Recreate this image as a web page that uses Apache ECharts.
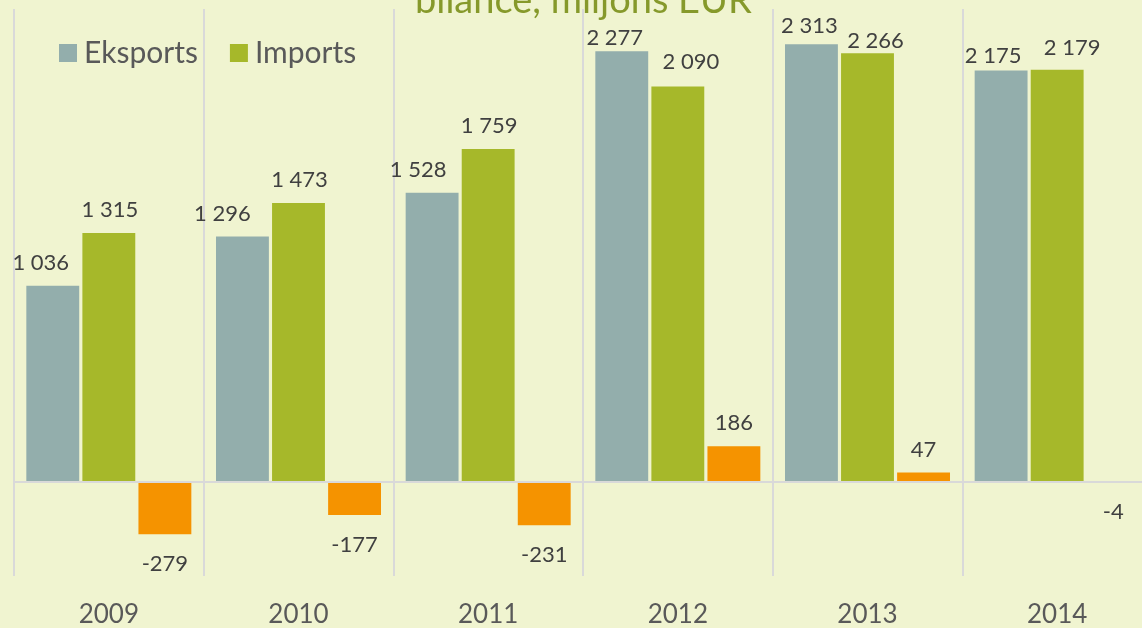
<!DOCTYPE html>
<html>
<head>
<meta charset="utf-8">
<script src="https://cdn.jsdelivr.net/npm/echarts@6/dist/echarts.min.js"></script>
<style>
  html, body { margin: 0; padding: 0; overflow: hidden; background: #F0F4D0; }
  #chart { width: 1152px; height: 628px; }
</style>
</head>
<body>
<div id="chart"></div>
<script>
var years = ['2009', '2010', '2011', '2012', '2013', '2014'];
var eksports = [1036, 1296, 1528, 2277, 2313, 2175];
var imports = [1315, 1473, 1759, 2090, 2266, 2179];
var bilance = [-279, -177, -231, 186, 47, -4];

// hand-moved label nudges, as in the original
var eksShift = [[-12, 0], [-20, 0], [-14, 0], [-7, 10], [-2, 5], [-8, 8]];
var impShift = [[1, 0], [1, 0], [1, 0], [13, -2], [8, 11], [15, 1]];

var chartDom = document.getElementById('chart');
var myChart = echarts.init(chartDom);

function fmt(v) {
    var s = String(Math.abs(v)).replace(/\B(?=(\d{3})+(?!\d))/g, ' ');
    return (v < 0 ? '-' : '') + s;
}

function items(values, shift) {
    return values.map(function (v, i) {
        var it = { value: v, label: { position: v < 0 ? 'bottom' : 'top', distance: v < 0 ? 19 : 12 } };
        if (shift) it.label.offset = shift[i];
        return it;
    });
}

var labelStyle = {
    show: true,
    color: '#404040',
    fontSize: 22,
    fontFamily: 'Lato',
    formatter: function (p) { return fmt(p.value); }
};

var option = {
    backgroundColor: '#F0F4D0',
    animation: false,
    title: {
        text: 'bilance, miljons EUR',
        left: 410,
        top: -23,
        textStyle: { color: '#86992B', fontSize: 38, fontWeight: 'normal', fontFamily: 'Lato' }
    },
    legend: {
        data: ['Eksports', 'Imports'],
        left: 54,
        top: 33,
        icon: 'rect',
        itemWidth: 18,
        itemHeight: 18,
        itemGap: 32,
        textStyle: { color: '#595959', fontSize: 30, fontFamily: 'Lato', padding: [0, 0, 0, 2] }
    },
    grid: { left: 14, right: 0, top: 9, bottom: 50 },
    xAxis: {
        type: 'category',
        data: years,
        axisLine: { show: false },
        axisTick: { show: false },
        axisLabel: { color: '#595959', fontSize: 26, fontFamily: 'Lato', margin: 26 },
        splitLine: { show: true, lineStyle: { color: '#D9D9D9', width: 2 } }
    },
    yAxis: {
        type: 'value',
        min: -500,
        max: 2500,
        show: false,
        splitLine: { show: false }
    },
    series: [
        {
            name: 'Eksports',
            type: 'bar',
            barGap: '6%',
            barCategoryGap: '13%',
            itemStyle: { color: '#93AEAC' },
            label: labelStyle,
            data: items(eksports, eksShift),
            markLine: {
                silent: true,
                symbol: 'none',
                label: { show: false },
                lineStyle: { color: '#D9D9D9', width: 2, type: 'solid' },
                data: [{ yAxis: 0 }]
            }
        },
        {
            name: 'Imports',
            type: 'bar',
            itemStyle: { color: '#A6B82A' },
            label: labelStyle,
            data: items(imports, impShift)
        },
        {
            name: 'Bilance',
            type: 'bar',
            itemStyle: { color: '#F59300' },
            label: labelStyle,
            data: items(bilance)
        }
    ]
};

myChart.setOption(option);
</script>
</body>
</html>
